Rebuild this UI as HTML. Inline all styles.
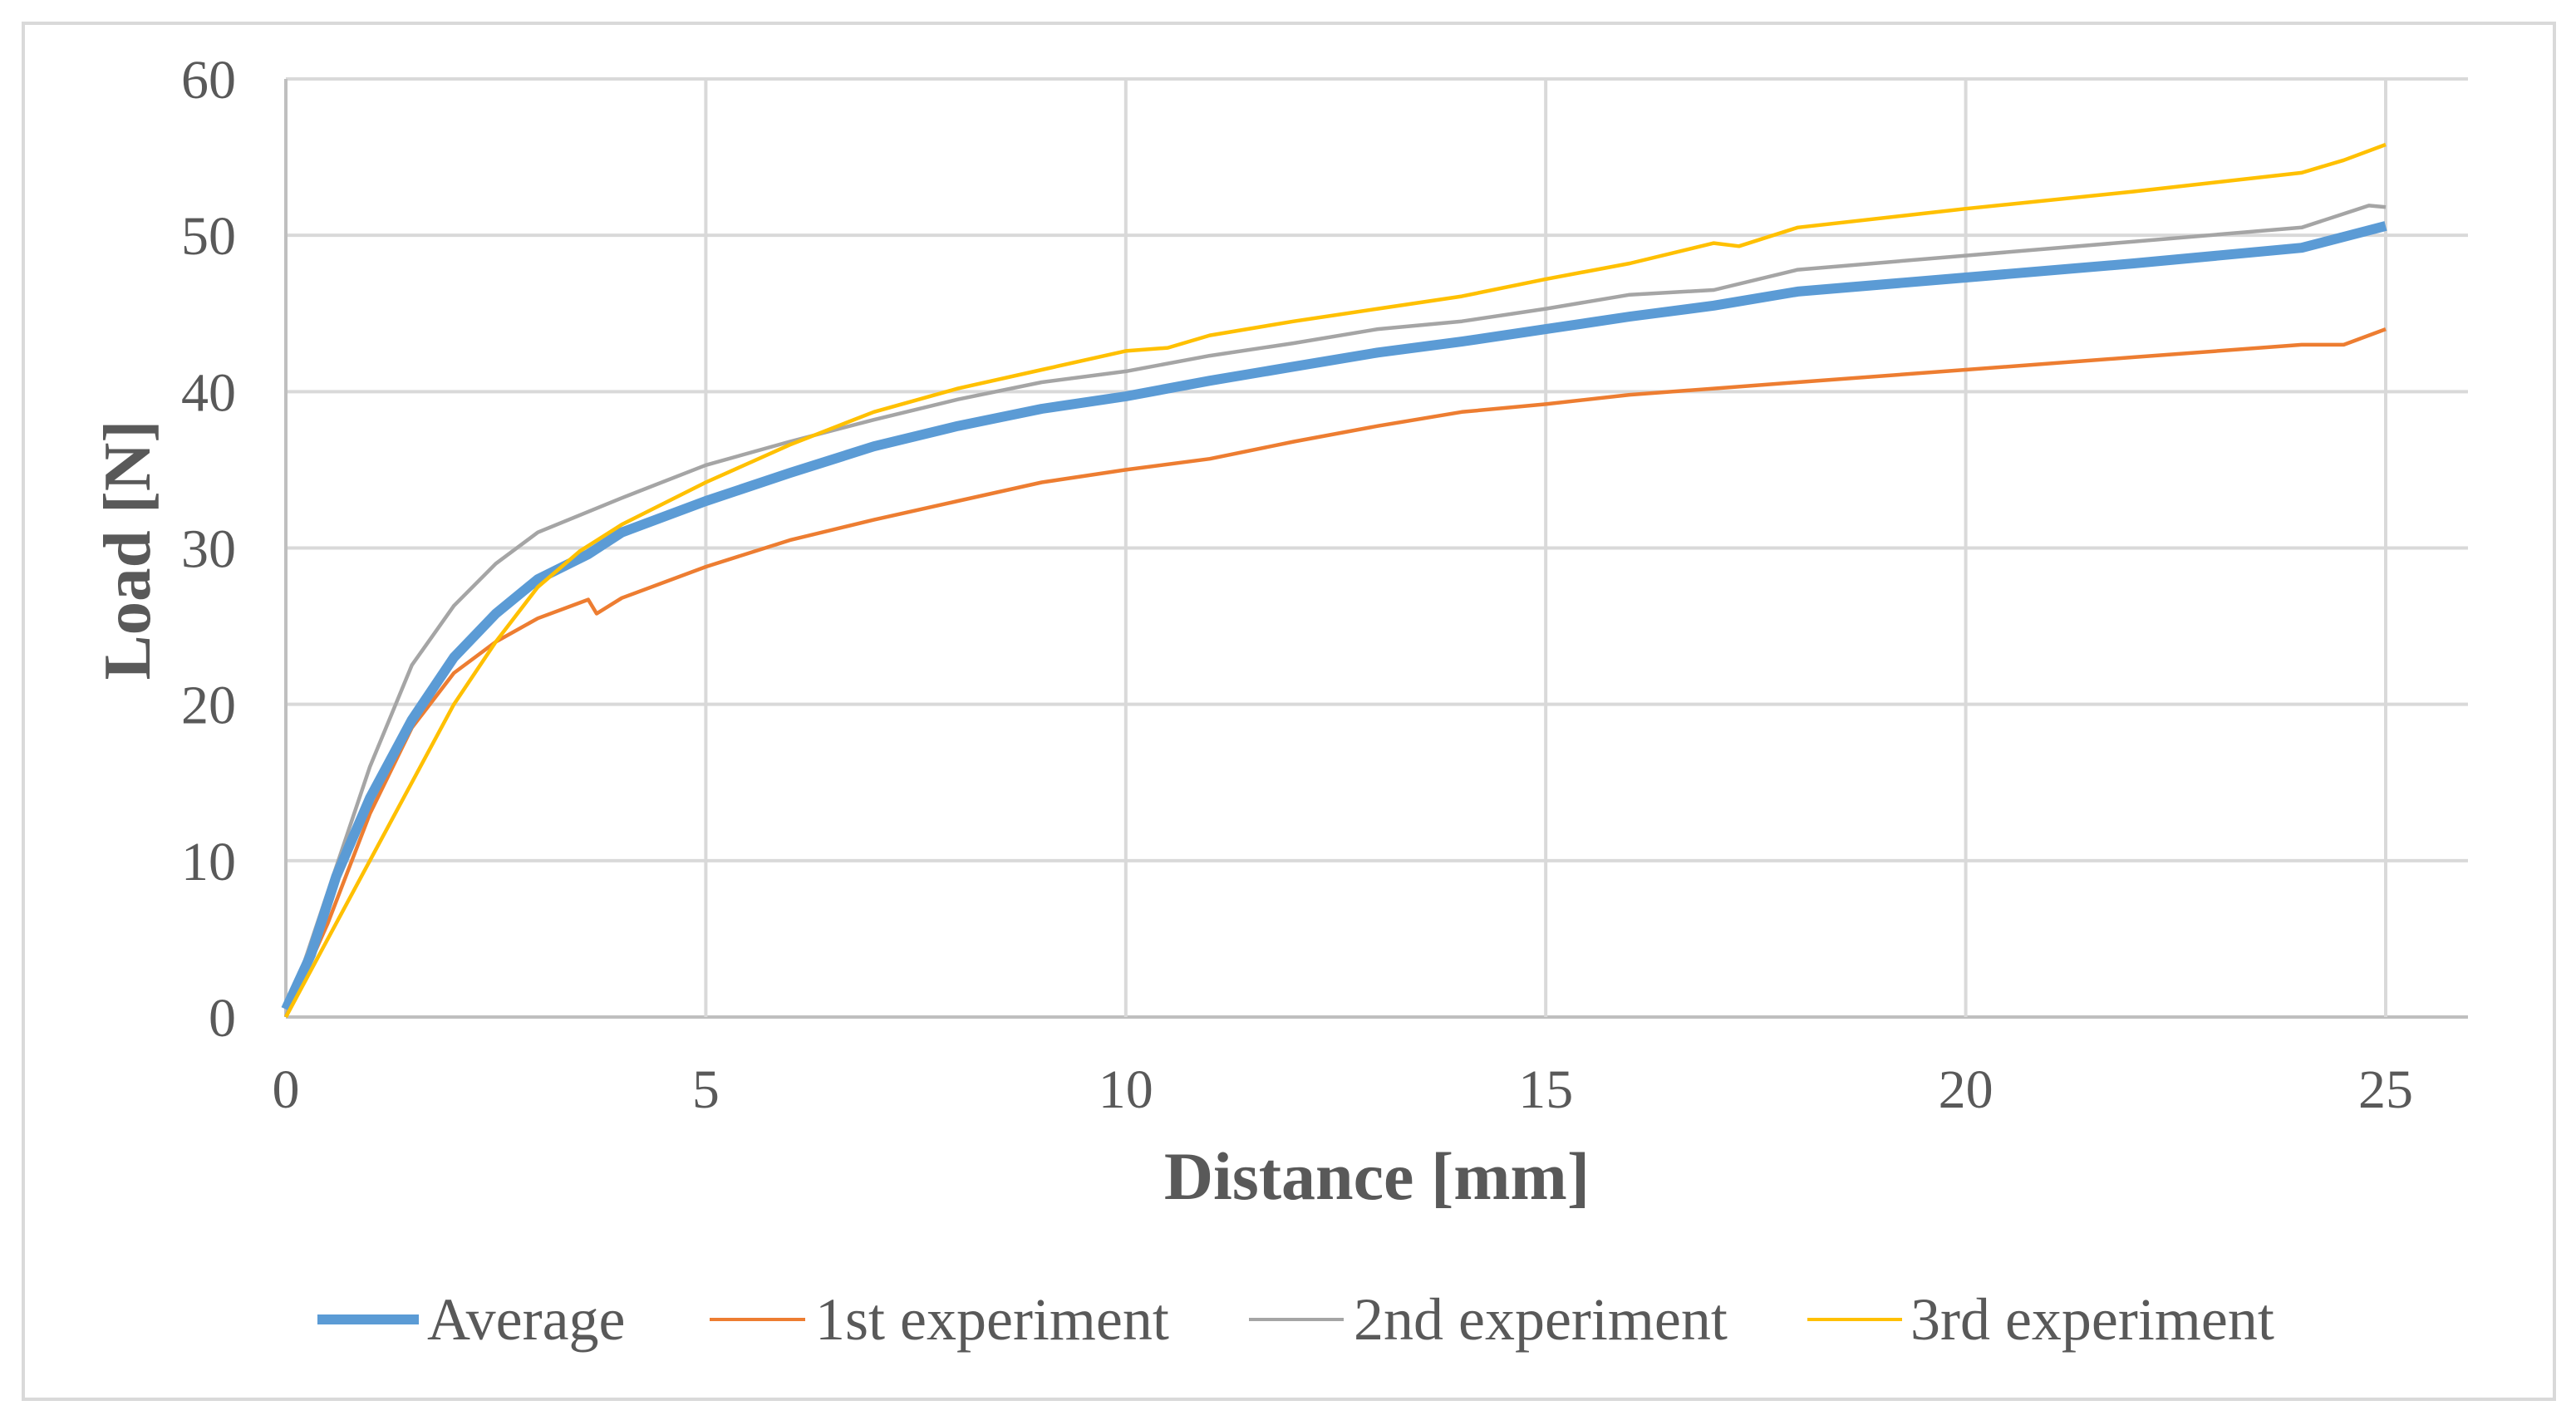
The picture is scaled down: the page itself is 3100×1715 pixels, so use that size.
<!DOCTYPE html>
<html><head><meta charset="utf-8">
<style>
html,body{margin:0;padding:0;background:#fff;}
svg{display:block;}
text{font-family:"Liberation Serif",serif;fill:#595959;}
</style></head>
<body>
<svg id="chart" width="3100" height="1715" viewBox="0 0 3100 1715" xmlns="http://www.w3.org/2000/svg">
<rect x="28" y="28" width="3046" height="1656" fill="#fff" stroke="#d9d9d9" stroke-width="4"/>
<g id="grid"></g>
<g id="series"></g>
<g id="ticks"></g>
<text x="1657" y="1443" text-anchor="middle" font-size="82" font-weight="bold">Distance [mm]</text>
<text transform="translate(180,662) rotate(-90)" text-anchor="middle" font-size="81" font-weight="bold">Load [N]</text>
<g>
  <g>
    <line x1="382" y1="1588" x2="504" y2="1588" stroke="#5B9BD5" stroke-width="12"/>
    <text x="514" y="1612" font-size="72">Average</text>
  </g>
  <g>
    <line x1="854" y1="1588" x2="969" y2="1588" stroke="#ED7D31" stroke-width="4"/>
    <text x="981" y="1612" font-size="72">1st experiment</text>
  </g>
  <g>
    <line x1="1503" y1="1588" x2="1617" y2="1588" stroke="#A5A5A5" stroke-width="4"/>
    <text x="1629" y="1612" font-size="72">2nd experiment</text>
  </g>
  <g>
    <line x1="2175" y1="1588" x2="2289" y2="1588" stroke="#FFC000" stroke-width="4"/>
    <text x="2299" y="1612" font-size="72">3rd experiment</text>
  </g>
</g>
</svg>
<script>
const xTicks = [0, 5, 10, 15, 20, 25];
const yTicks = [0, 10, 20, 30, 40, 50, 60];
const avgX = [0,0.3,0.6,1,1.5,2,2.5,3,3.6,4,5,6,7,8,9,10,11,12,13,14,15,16,17,18,20,22,24,25];
const avgY = [0.5,4,9,14,19,23,25.8,28,29.6,31,33,34.8,36.5,37.8,38.9,39.7,40.7,41.6,42.5,43.2,44,44.8,45.5,46.4,47.3,48.2,49.2,50.6];
const e1X = [0,0.5,1,1.5,2,2.5,3,3.6,3.7,4,5,6,7,8,9,10,11,12,13,14,15,16,17,18,20,22,24,24.5,25];
const e1Y = [0,6,13,18.5,22,24,25.5,26.7,25.8,26.8,28.8,30.5,31.8,33,34.2,35,35.7,36.8,37.8,38.7,39.2,39.8,40.2,40.6,41.4,42.2,43,43,44];
const e2X = [0,0.5,1,1.5,2,2.5,3,4,5,6,7,8,9,10,11,12,13,14,15,16,17,18,20,22,24,24.8,25];
const e2Y = [0,8,16,22.5,26.3,29,31,33.2,35.3,36.8,38.2,39.5,40.6,41.3,42.3,43.1,44,44.5,45.3,46.2,46.5,47.8,48.7,49.6,50.5,51.9,51.8];
const e3X = [0,0.5,1,1.5,2,2.5,3,3.5,4,5,6,7,8,9,10,10.5,11,12,13,14,15,16,17,17.3,18,20,22,24,24.5,25];
const e3Y = [0,5,10,15,20,24,27.5,29.8,31.5,34.2,36.6,38.7,40.2,41.4,42.6,42.8,43.6,44.5,45.3,46.1,47.2,48.2,49.5,49.3,50.5,51.7,52.8,54,54.8,55.8];

const X0 = 344, X25 = 2871, XEND = 2970, Y0 = 1224, Y60 = 95;
const sx = v => X0 + (X25 - X0) * v / 25;
const sy = v => Y0 - (Y0 - Y60) * v / 60;
const NS = "http://www.w3.org/2000/svg";
const grid = document.getElementById('grid');
const ticks = document.getElementById('ticks');
const series = document.getElementById('series');

yTicks.forEach(t => {
  const l = document.createElementNS(NS, 'line');
  l.setAttribute('x1', X0); l.setAttribute('x2', XEND);
  l.setAttribute('y1', sy(t)); l.setAttribute('y2', sy(t));
  l.setAttribute('stroke', t === 0 ? '#bfbfbf' : '#d9d9d9');
  l.setAttribute('stroke-width', 4);
  
  
  grid.appendChild(l);
  const tx = document.createElementNS(NS, 'text');
  tx.setAttribute('x', 284); tx.setAttribute('y', sy(t) + 23);
  tx.setAttribute('text-anchor', 'end'); tx.setAttribute('font-size', 66);
  tx.textContent = t;
  
  
  ticks.appendChild(tx);
});
xTicks.forEach(t => {
  const l = document.createElementNS(NS, 'line');
  l.setAttribute('x1', sx(t)); l.setAttribute('x2', sx(t));
  l.setAttribute('y1', Y60); l.setAttribute('y2', Y0);
  l.setAttribute('stroke', t === 0 ? '#bfbfbf' : '#d9d9d9');
  l.setAttribute('stroke-width', 4);
  
  
  grid.appendChild(l);
  const tx = document.createElementNS(NS, 'text');
  tx.setAttribute('x', sx(t)); tx.setAttribute('y', 1333);
  tx.setAttribute('text-anchor', 'middle'); tx.setAttribute('font-size', 66);
  tx.textContent = t;
  
  
  ticks.appendChild(tx);
});

function drawLine(xs, ys, color, w, name) {
  const p = document.createElementNS(NS, 'polyline');
  p.setAttribute('points', xs.map((x, i) => sx(x).toFixed(1) + ',' + sy(ys[i]).toFixed(1)).join(' '));
  p.setAttribute('fill', 'none');
  p.setAttribute('stroke', color);
  p.setAttribute('stroke-width', w);
  p.setAttribute('stroke-linejoin', 'round');
  
  
  series.appendChild(p);
}
drawLine(e1X, e1Y, '#ED7D31', 4.5, 'series-1st-experiment');
drawLine(e2X, e2Y, '#A5A5A5', 4.5, 'series-2nd-experiment');
drawLine(avgX, avgY, '#5B9BD5', 12, 'series-average');
drawLine(e3X, e3Y, '#FFC000', 4.5, 'series-3rd-experiment');
</script>
</body></html>
